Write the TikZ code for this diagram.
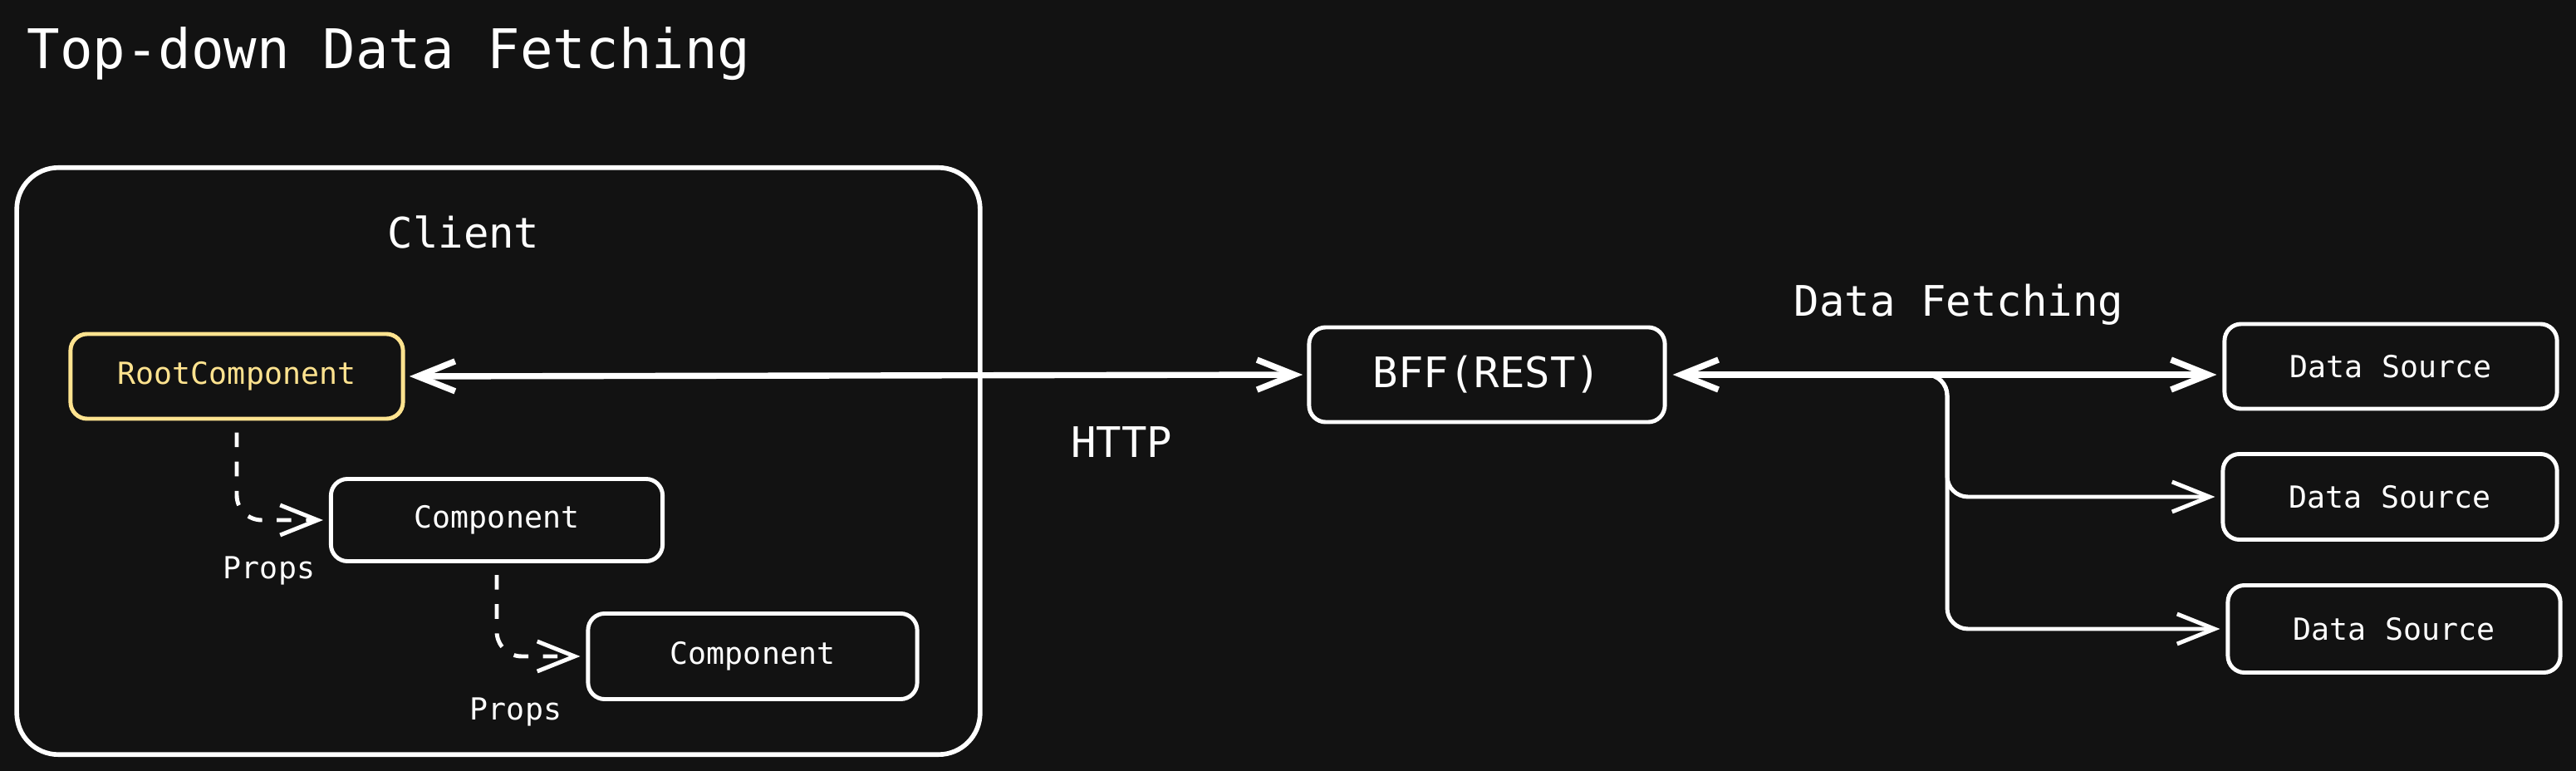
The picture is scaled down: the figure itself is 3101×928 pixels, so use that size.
\documentclass[tikz,border=0pt]{standalone}
\usepackage{fontspec}
\setmonofont{DejaVu Sans Mono}
\usetikzlibrary{arrows.meta}

\definecolor{canvas}{HTML}{121212}
\definecolor{rootyellow}{HTML}{FFE38F}

\tikzstyle{box}=[draw=white, line width=1.4pt, rounded corners=0.2cm, inner sep=0pt, text=white, font=\ttfamily\fontsize{10.4}{12}\selectfont]
\tikzstyle{bigbox}=[box, font=\ttfamily\fontsize{14.4}{17}\selectfont]
\tikzstyle{smalltext}=[text=white, font=\ttfamily\fontsize{10.4}{12}\selectfont]
\tikzstyle{bigtext}=[text=white, font=\ttfamily\fontsize{14.4}{17}\selectfont]
\tikzstyle{arrow}=[white, line width=2.1pt, {Straight Barb[length=0.45cm, width=0.36cm]}-{Straight Barb[length=0.45cm, width=0.36cm]}]
\tikzstyle{branch}=[white, line width=1.4pt, rounded corners=0.25cm, -{Straight Barb[length=0.45cm, width=0.36cm]}]
\tikzstyle{propsarrow}=[white, line width=1.4pt, dash pattern=on 5pt off 5pt, rounded corners=0.3cm, -{Straight Barb[length=0.45cm, width=0.36cm]}]

\begin{document}
\begin{tikzpicture}[x=0.01cm, y=-0.01cm]
      \fill[canvas] (0,0) rectangle (3101,928);

      \node[text=white, font=\ttfamily\fontsize{18.7}{22}\selectfont, anchor=base west] (title) at (20,83) {Top-down Data Fetching};

      % client side
      \node[box, line width=1.6pt, rounded corners=0.5cm, minimum width=11.59cm, minimum height=7.06cm] (client) at (600,555) {};
      \node[bigtext] (clientlbl) at (558,279) {Client};
      \node[box, draw=rootyellow, text=rootyellow, minimum width=4cm, minimum height=1.02cm] (root) at (285,453) {RootComponent};
      \node[box, minimum width=3.99cm, minimum height=0.99cm] (comp1) at (598,626) {Component};
      \node[box, minimum width=3.96cm, minimum height=1.03cm] (comp2) at (906,790) {Component};
      \node[smalltext] (props1) at (324,687) {Props};
      \node[smalltext] (props2) at (621,857) {Props};

      % server side
      \node[bigbox, minimum width=4.28cm, minimum height=1.14cm] (bff) at (1790,451) {BFF(REST)};
      \node[bigtext] (http) at (1350,532) {HTTP};
      \node[bigtext] (fetchlbl) at (2358,367) {Data Fetching};
      \node[box, minimum width=4cm, minimum height=1.02cm] (ds1) at (2878,441) {Data Source};
      \node[box, minimum width=4.02cm, minimum height=1.03cm] (ds2) at (2877,598) {Data Source};
      \node[box, minimum width=4cm, minimum height=1.05cm] (ds3) at (2882,757) {Data Source};
      \coordinate (split) at (2320,451);
      \coordinate (drop) at (2344,451);

      \draw[propsarrow, shorten <=4pt, shorten >=2pt] (root.south) |- (comp1.west);
      \draw[propsarrow, shorten <=4pt, shorten >=2pt] (comp1.south) |- (comp2.west);
      \draw[arrow, shorten <=1.5pt, shorten >=1.5pt] (root.east) -- (bff.west);
      \draw[arrow, shorten <=2pt, shorten >=2pt] (bff.east) -- (bff.east -| ds1.west);
      \draw[branch, shorten >=2pt] (split) -| (drop |- ds2.west) -- (ds2.west);
      \draw[branch, shorten >=2pt] (split) -| (drop |- ds3.west) -- (ds3.west);
    \end{tikzpicture}
\end{document}
